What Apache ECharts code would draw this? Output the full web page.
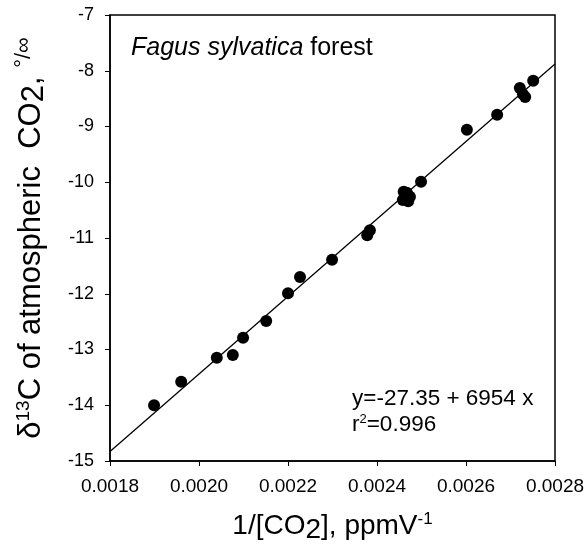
<!DOCTYPE html>
<html lang="en">
<head>
    <meta charset="UTF-8">
    <title>Fagus sylvatica forest</title>
    <script src="https://cdn.jsdelivr.net/npm/echarts@6/dist/echarts.min.js"></script>
    <style>
        html, body { margin: 0; padding: 0; background: #fff; }
    </style>
</head>
<body>
<div id="main" style="width: 587px;height:544px;"></div>
<script>
    // 1/[CO2] (ppmV^-1) and d13C (per mil)
    var invCO2 = [0.001899, 0.00196, 0.00204, 0.002076, 0.002099, 0.002151, 0.0022, 0.002227,
        0.002299, 0.002378, 0.002384, 0.00246, 0.002458, 0.002467, 0.002474, 0.00247,
        0.002499, 0.002602, 0.00267, 0.002721, 0.002728, 0.002733, 0.002751];
    var d13C = [-14.0, -13.58, -13.15, -13.10, -12.79, -12.49, -11.99, -11.70,
        -11.39, -10.95, -10.86, -10.17, -10.32, -10.19, -10.26, -10.34,
        -9.99, -9.06, -8.79, -8.31, -8.42, -8.47, -8.18];
    // regression line ends
    var fitX = [0.0018, 0.0028];
    var fitY = [-14.83, -7.88];
    var xTicks = ['0.0018', '0.0020', '0.0022', '0.0024', '0.0026', '0.0028'];

    var points = [];
    for (var i = 0; i < invCO2.length; i++) {
        points.push([invCO2[i], d13C[i]]);
    }
    var fitLine = [];
    for (var j = 0; j < fitX.length; j++) {
        fitLine.push([fitX[j], fitY[j]]);
    }

    var font = 'Liberation Sans, Arial, sans-serif';
    var myChart = echarts.init(document.getElementById('main'));
    var option = {
        animation: false,
        backgroundColor: '#fff',
        textStyle: {fontFamily: font},
        grid: {
            left: 110,
            right: 32,
            top: 15,
            bottom: 83,
            outerBoundsMode: 'none',
            show: true,
            borderColor: '#000',
            borderWidth: 1.5
        },
        xAxis: {
            type: 'value',
            min: 0.0018,
            max: 0.0028,
            interval: 0.0002,
            splitLine: {show: false},
            axisLine: {lineStyle: {color: '#000', width: 1.5}},
            axisTick: {inside: false, length: 5, lineStyle: {color: '#000'}},
            axisLabel: {
                color: '#000',
                fontSize: 19,
                margin: 16,
                fontFamily: font,
                formatter: function (v) {
                    var k = Math.round((v - 0.0018) / 0.0002);
                    return xTicks[k] || '';
                }
            },
            name: '1/[CO{sub|2}], ppmV{sup|-1}',
            nameLocation: 'middle',
            nameGap: 48,
            nameTextStyle: {
                color: '#000',
                fontSize: 28,
                fontFamily: font,
                rich: {
                    sub: {fontSize: 28, padding: [7, 0, 0, 0], fontFamily: font},
                    sup: {fontSize: 17, padding: [0, 0, 14, 0], fontFamily: font}
                }
            }
        },
        yAxis: {
            type: 'value',
            min: -15,
            max: -7,
            interval: 1,
            splitLine: {show: false},
            axisLine: {lineStyle: {color: '#000', width: 1.5}},
            axisTick: {inside: false, length: 5, lineStyle: {color: '#000'}},
            axisLabel: {color: '#000', fontSize: 18, margin: 16, fontFamily: font},
            name: '{d|δ}{sup|13}C of atmospheric  CO{sub|2}, {pm|°/∞}',
            nameLocation: 'middle',
            nameRotate: 90,
            nameGap: 60,
            nameTextStyle: {
                color: '#000',
                fontSize: 31,
                fontFamily: font,
                rich: {
                    d: {fontSize: 31, fontFamily: font},
                    sub: {fontSize: 31, padding: [7, 0, 0, 0], fontFamily: font},
                    sup: {fontSize: 19, padding: [0, 0, 14, 0], fontFamily: font},
                    pm: {fontSize: 22, padding: [0, 0, 14, 0], fontFamily: font}
                }
            }
        },
        series: [
            {
                name: 'fit',
                type: 'line',
                data: fitLine,
                symbol: 'none',
                lineStyle: {color: '#000', width: 1.3},
                z: 1
            },
            {
                name: 'data',
                type: 'scatter',
                data: points,
                symbol: 'circle',
                symbolSize: 12,
                itemStyle: {color: '#000', opacity: 1},
                z: 2
            }
        ],
        graphic: [
            {
                type: 'text',
                left: 131,
                top: 36,
                style: {
                    text: '{i|Fagus sylvatica} forest',
                    fill: '#000',
                    font: '25px ' + font,
                    rich: {
                        i: {fontStyle: 'italic', fontSize: 25, fontFamily: font}
                    }
                }
            },
            {
                type: 'text',
                left: 352,
                top: 386,
                style: {
                    text: 'y=-27.35 + 6954 x\nr{sup|2}=0.996',
                    fill: '#000',
                    font: '22.5px ' + font,
                    lineHeight: 26,
                    rich: {
                        sup: {fontSize: 13, padding: [0, 0, 11, 0], fontFamily: font}
                    }
                }
            }
        ]
    };
    myChart.setOption(option);
</script>
</body>
</html>
